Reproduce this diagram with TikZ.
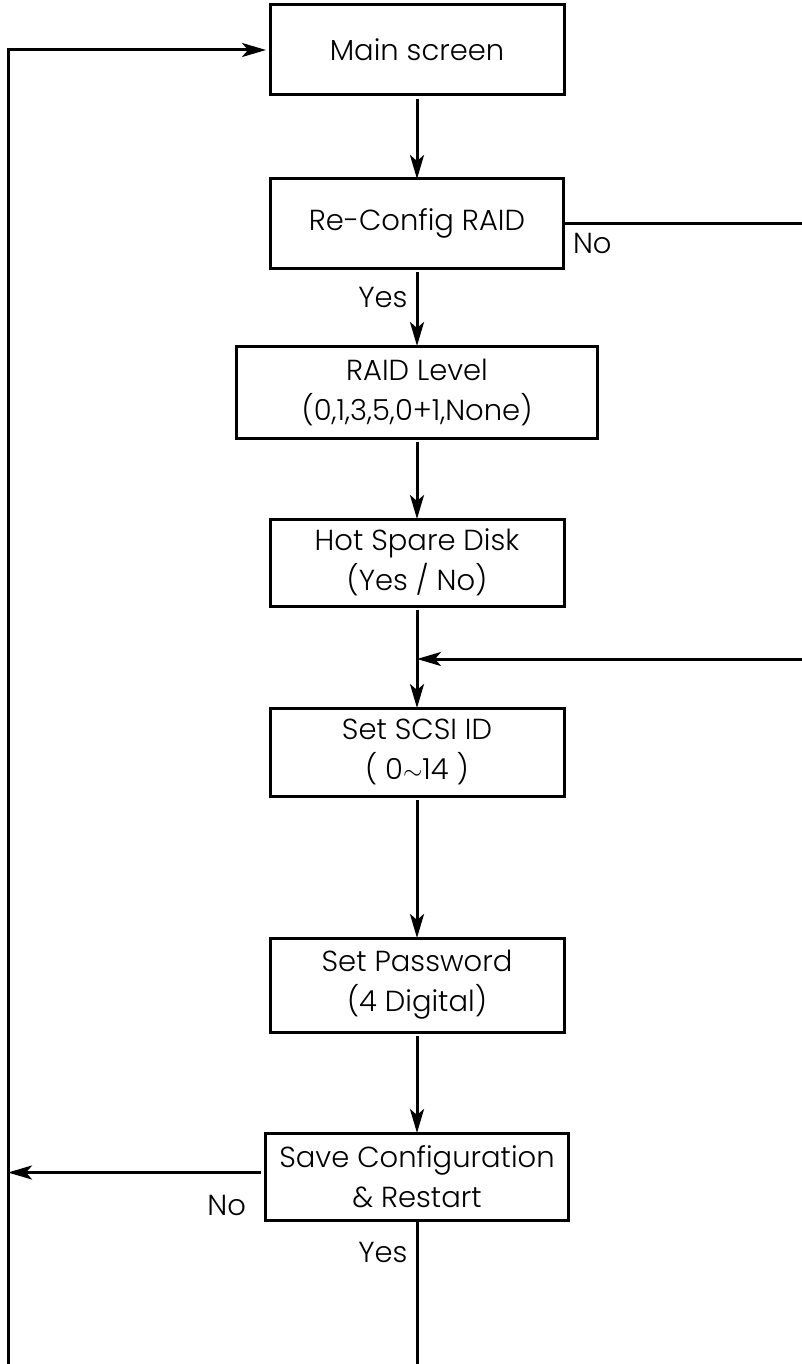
\documentclass[tikz,border=0pt]{standalone}
\usepackage{fontspec}
\setmainfont{Poppins Light}
\usepackage{tikz}
\usetikzlibrary{positioning}
\usetikzlibrary{arrows.meta}

\begin{document}
\begin{tikzpicture}[x=1pt, y=-1pt, line width=3pt, font=\fontsize{29}{40}\selectfont,
  box/.style = {draw, rectangle, align=center, inner sep=0pt, outer sep=0pt},
  arr/.style = {-{Stealth[length=24pt, width=14pt, inset=6pt]}},
  lbl/.style = {inner sep=8pt}]
\useasboundingbox (0,0) rectangle (802,1364);
\node[box, minimum width=294pt, minimum height=90pt] (main) at (417,50) {Main screen};
\node[box, minimum width=293pt, minimum height=89pt] (reconf) [below=84pt of main] {Re-Config RAID};
\node[box, minimum width=361pt, minimum height=92pt] (level) [below=78pt of reconf] {RAID Level\\(0,1,3,5,0+1,None)};
\node[box, minimum width=294pt, minimum height=87pt] (spare) [below=81pt of level] {Hot Spare Disk\\(Yes / No)};
\node[box, minimum width=294pt, minimum height=88pt] (scsi) [below=102pt of spare] {Set SCSI ID\\( 0$\sim$14 )};
\node[box, minimum width=294pt, minimum height=94pt] (passwd) [below=142pt of scsi] {Set Password\\(4 Digital)};
\node[box, minimum width=303pt, minimum height=87pt] (save) [below=101pt of passwd] {Save Configuration\\\& Restart};

% loose ends at the page border
\coordinate (redge) at (802,659);
\coordinate (lbot) at (8,1364);
\coordinate (rtop) at (reconf.east -| redge);
\coordinate (join) at (spare.south |- redge);
\coordinate (bend) at (save.south |- lbot);

\draw[arr, shorten <=4pt] (main) -- (reconf);
\draw[arr, shorten <=4pt] (reconf) -- node[pos=0, below left, lbl, yshift=-10pt] {Yes} (level);
\draw[arr, shorten <=4pt] (level) -- (spare);
\draw[arr, shorten <=4pt] (spare) -- (scsi);
\draw[arr, shorten <=4pt] (scsi) -- (passwd);
\draw[arr, shorten <=4pt] (passwd) -- (save);
\draw (reconf.east) -- node[pos=0, below right, lbl] {No} (rtop);
\draw[arr] (redge) -- (join);
\draw[arr, shorten <=5pt] ([yshift=4pt]save.west) -- node[pos=0, below left, lbl, xshift=-10pt, yshift=-13pt] {No} ([yshift=4pt]save.west -| lbot);
\draw (save.south) -- node[pos=0, below left, lbl, yshift=-13pt] {Yes} (bend);
\draw[arr, shorten >=4pt] (lbot) |- (main.west);
\end{tikzpicture}
\end{document}
